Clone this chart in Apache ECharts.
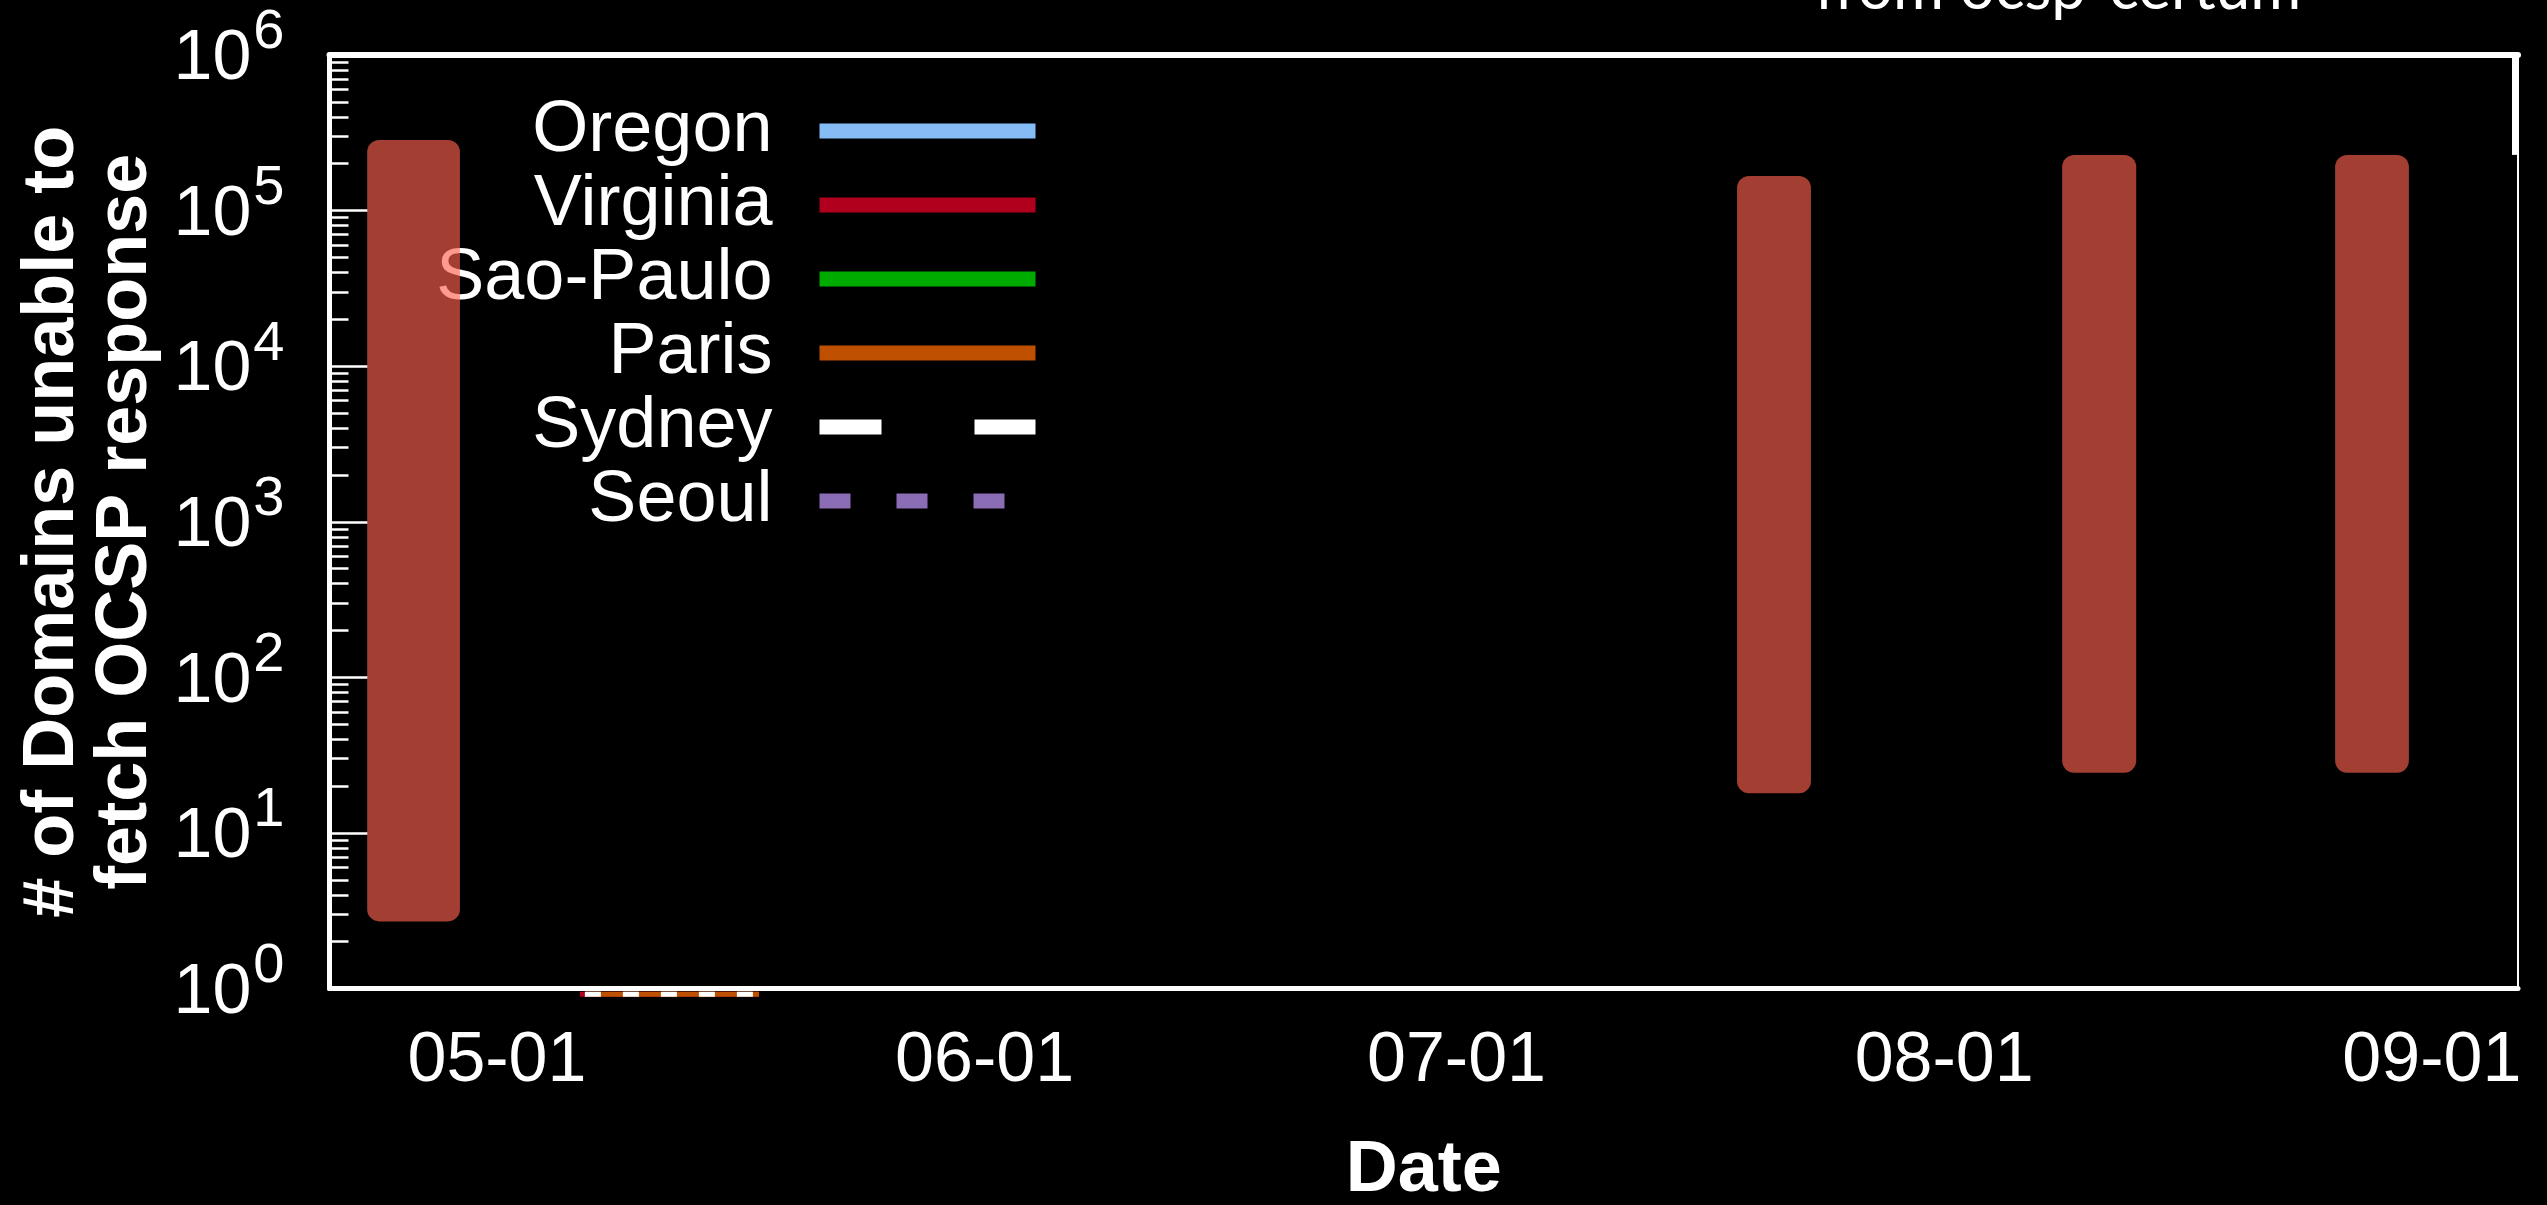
<!DOCTYPE html>
<html>
<head>
<meta charset="utf-8">
<script src="https://cdn.jsdelivr.net/npm/echarts@6/dist/echarts.min.js"></script>
<style>
  html, body { margin: 0; padding: 0; background: #000; }
  #chart { width: 2547px; height: 1205px; }
</style>
</head>
<body>
<div id="chart"></div>
<script>
// Vantage points and their line colours
const regions = ['Oregon', 'Virginia', 'Sao-Paulo', 'Paris', 'Sydney', 'Seoul'];
const regionColors = ['#86bcf6', '#b0001e', '#00ab00', '#bf5000', '#ffffff', '#8a6db4'];

// Per-region counts; only a short May stretch sits at the lower edge of the scale
const oregonValues = [];
const virginiaValues = [['2018-05-06 06:40', 0.92], ['2018-05-17 15:50', 0.92]];
const saoPauloValues = [];
const parisValues = [['2018-05-06 14:10', 0.92], ['2018-05-17 15:50', 0.92]];
const sydneyValues = [['2018-05-06 14:10', 0.92], ['2018-05-17 15:50', 0.92]];
const seoulValues = [];
const regionValues = [oregonValues, virginiaValues, saoPauloValues, parisValues, sydneyValues, seoulValues];

// Outage windows: start, end, lowest and highest count
const spanStart = ['2018-04-22 18:00', '2018-07-18 20:00', '2018-08-08 12:00', '2018-08-25 20:30'];
const spanEnd   = ['2018-04-28 15:30', '2018-07-23 12:45', '2018-08-13 05:00', '2018-08-30 13:00'];
const spanLow   = [2.7, 18, 24.4, 24.4];
const spanHigh  = [284000, 167000, 228000, 228000];

// Axis range and ticks
const xMin = '2018-04-20 08:30';
const xMax = '2018-09-06 11:30';
const xTickDates = ['2018-05-01', '2018-06-01', '2018-07-01', '2018-08-01', '2018-09-01'];
const yMin = 1;
const yMax = 1e6;
const minorMultipliers = [2, 3, 4, 5, 6, 7, 8, 9];

const FONT = "'Liberation Sans', Arial, Helvetica, sans-serif";
const toTime = s => echarts.number.parseDate(s).getTime();
const pad2 = n => (n < 10 ? '0' : '') + n;

// minor tick positions in decade units (0..6) for the overlay axis
const decades = Math.round(Math.log10(yMax / yMin));
const minorTickPositions = [];
for (let d = 0; d < decades; d++) {
  minorMultipliers.forEach(k => minorTickPositions.push(d + Math.log10(k)));
}

const chart = echarts.init(document.getElementById('chart'), null, { renderer: 'canvas' });

const lineDash = { Sydney: [16, 22], Seoul: [8, 12] };
const legendDash = { Sydney: [62, 93], Seoul: [31, 46] };

const lineSeries = regions.map((name, i) => ({
  name: name,
  type: 'line',
  xAxisIndex: 0,
  yAxisIndex: 0,
  data: regionValues[i].map(p => [toTime(p[0]), p[1]]),
  symbol: 'none',
  showSymbol: false,
  clip: false,
  silent: true,
  z: 3,
  itemStyle: { color: regionColors[i] },
  lineStyle: { color: regionColors[i], width: 5, type: lineDash[name] || 'solid' }
}));

const spanData = spanStart.map((s, i) => [toTime(s), toTime(spanEnd[i]), spanLow[i], spanHigh[i]]);

const option = {
  backgroundColor: '#000',
  animation: false,
  grid: { left: 329.5, right: 29, top: 55, bottom: 216.5, containLabel: false, outerBoundsMode: 'none' },
  legend: {
    orient: 'vertical',
    right: 1504,
    top: 94,
    padding: 0,
    itemGap: 0,
    itemWidth: 216,
    itemHeight: 15,
    align: 'right',
    selectedMode: false,
    textStyle: { color: '#fff', fontSize: 72, fontFamily: FONT, lineHeight: 74, padding: [0, 42, 0, 0] },
    itemStyle: { color: 'rgba(0,0,0,0)', borderWidth: 0 },
    lineStyle: { width: 15 },
    data: regions.map(name => ({ name: name, lineStyle: { width: 15, type: legendDash[name] || 'solid' } }))
  },
  xAxis: [
    {
      // dates held as timestamps on a linear scale
      type: 'value',
      position: 'bottom',
      min: toTime(xMin),
      max: toTime(xMax),
      axisLine: { show: true, onZero: false, lineStyle: { color: '#fff', width: 5 } },
      axisTick: { show: false },
      splitLine: { show: false },
      axisLabel: {
        customValues: xTickDates.map(toTime),
        formatter: v => { const d = new Date(v); return pad2(d.getMonth() + 1) + '-' + pad2(d.getDate()); },
        color: '#fff', fontSize: 70, fontFamily: FONT, margin: 38
      },
      name: 'Date',
      nameLocation: 'middle',
      nameGap: 147,
      nameTextStyle: { color: '#fff', fontSize: 72, fontWeight: 'bold', fontFamily: FONT }
    },
    {
      type: 'value',
      position: 'top',
      min: 0, max: 1,
      axisLine: { show: true, onZero: false, lineStyle: { color: '#fff', width: 6 } },
      axisTick: { show: false },
      axisLabel: { show: false },
      splitLine: { show: false }
    }
  ],
  yAxis: [
    {
      type: 'log',
      position: 'left',
      min: yMin,
      max: yMax,
      axisLine: { show: true, onZero: false, lineStyle: { color: '#fff', width: 5 } },
      axisTick: { show: true, inside: true, length: 38, lineStyle: { color: '#fff', width: 2.5 } },
      minorTick: { show: false },
      splitLine: { show: false },
      axisLabel: {
        margin: 45,
        color: '#fff',
        formatter: v => '{b|10}{s|' + Math.round(Math.log10(v)) + '}',
        rich: {
          b: { fontSize: 70, fontFamily: FONT, color: '#fff', padding: [20, 0, 10, 0] },
          s: { fontSize: 56, fontFamily: FONT, color: '#fff', verticalAlign: 'top', padding: [0, 0, 0, 2] }
        }
      },
      name: '# of Domains unable to\nfetch OCSP response',
      nameLocation: 'middle',
      nameGap: 165,
      nameTextStyle: { color: '#fff', fontSize: 72, fontWeight: 'bold', fontFamily: FONT, lineHeight: 73, align: 'center' }
    },
    {
      // minor ticks of the log scale, expressed in decades
      type: 'value',
      position: 'left',
      min: 0, max: decades,
      axisLine: { show: false, onZero: false },
      axisTick: { show: true, inside: true, length: 19, customValues: minorTickPositions, lineStyle: { color: '#fff', width: 2.5 } },
      axisLabel: { show: false },
      splitLine: { show: false }
    },
    {
      type: 'value',
      position: 'right',
      min: 0, max: decades,
      axisLine: { show: true, onZero: false, lineStyle: { color: '#fff', width: 2 } },
      axisTick: { show: false },
      axisLabel: { show: false },
      splitLine: { show: false }
    }
  ],
  graphic: [
    {
      id: 'caption',
      type: 'text',
      x: 2058,
      y: -11,
      style: { text: 'from ocsp-certum', fill: '#fff', font: '62px Lato', align: 'center', verticalAlign: 'middle' }
    }
  ],
  series: lineSeries.concat([
    {
      name: 'outages',
      type: 'custom',
      xAxisIndex: 0,
      yAxisIndex: 0,
      z: 10,
      silent: true,
      dimensions: ['start', 'end', 'low', 'high'],
      encode: { x: [0, 1], y: [2, 3] },
      data: spanData,
      renderItem: (params, api) => {
        const topLeft = api.coord([api.value(0), api.value(3)]);
        const bottomRight = api.coord([api.value(1), api.value(2)]);
        return {
          type: 'rect',
          shape: {
            x: topLeft[0], y: topLeft[1],
            width: bottomRight[0] - topLeft[0],
            height: bottomRight[1] - topLeft[1],
            r: 12
          },
          style: { fill: 'rgba(255, 98, 78, 0.64)' }
        };
      }
    }
  ])
};

chart.setOption(option);

// heavier stroke along the upper part of the right frame
const frameTop = chart.convertToPixel({ xAxisIndex: 0, yAxisIndex: 0 }, [toTime(xMax), yMax]);
const frameEnd = chart.convertToPixel({ xAxisIndex: 0, yAxisIndex: 0 }, [toTime(xMax), spanHigh[2]]);
chart.setOption({
  graphic: [
    {
      id: 'frameEdge',
      type: 'line',
      shape: { x1: frameTop[0] - 3, y1: frameTop[1] - 3, x2: frameTop[0] - 3, y2: frameEnd[1] },
      style: { stroke: '#fff', lineWidth: 6 }
    }
  ]
});
</script>
</body>
</html>
